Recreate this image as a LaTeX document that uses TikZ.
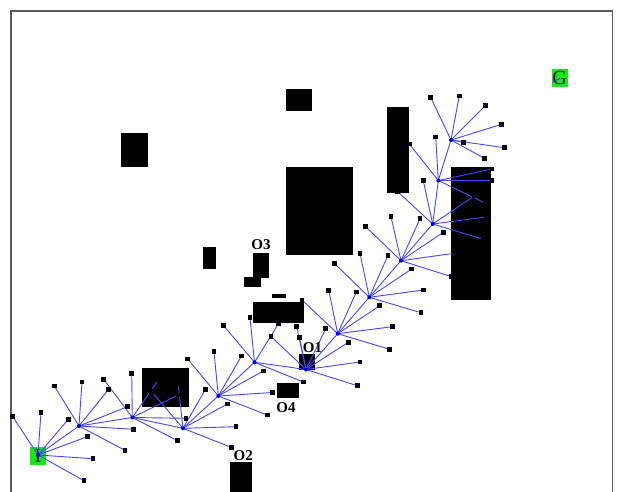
\documentclass[tikz,border=0pt]{standalone}
\usepackage{fontspec}
\setmainfont{Liberation Serif}
\pgfdeclarelayer{obst}
\pgfdeclarelayer{edges}
\pgfsetlayers{obst,edges,main}
\definecolor{edgeblue}{RGB}{70,70,255}
\definecolor{dotblue}{RGB}{0,0,220}
\definecolor{goalgreen}{RGB}{20,235,20}
\definecolor{framegray}{RGB}{90,90,90}
\tikzset{
  leaf/.style={fill=black, inner sep=0pt, minimum size=4.5pt, rectangle},
  tnode/.style={fill=dotblue, inner sep=0pt, minimum size=4pt, circle},
  edge/.style={draw=edgeblue, line width=0.9pt},
  obstacle/.style={fill=black},
  olabel/.style={anchor=base, inner sep=0pt, font=\fontsize{15}{15}\selectfont\bfseries},
  endbox/.style={fill=goalgreen, inner sep=0pt, minimum width=16pt, minimum height=17.5pt, font=\fontsize{20}{20}\selectfont}
}
\begin{document}
\begin{tikzpicture}[x=1pt,y=-1pt]
\useasboundingbox (0,0) rectangle (619,492);
\clip (0,0) rectangle (619,492);
\draw[framegray, line width=1.3pt] (11,495) -- (11,11) -- (612.5,11) -- (612.5,495);

\begin{pgfonlayer}{obst}
\fill[obstacle] (120.7,133.3) rectangle (147.7,166.7);
\fill[obstacle] (285.7,88.7) rectangle (312.3,110.7);
\fill[obstacle] (285.7,166.7) rectangle (353.3,255.3);
\fill[obstacle] (386.7,106.7) rectangle (409,193.3);
\fill[obstacle] (450.7,166.7) rectangle (491.3,300);
\fill[obstacle] (203.3,247.3) rectangle (216,269);
\fill[obstacle] (252.7,253.3) rectangle (268.7,277.7);
\fill[obstacle] (244.3,277.2) rectangle (260.7,286.7);
\fill[obstacle] (271.7,293.5) rectangle (285.5,297.5);
\fill[obstacle] (252.5,302.3) rectangle (304,323);
\fill[obstacle] (298.7,354.3) rectangle (315.3,370);
\fill[obstacle] (277,382.7) rectangle (298.7,398.3);
\fill[obstacle] (230.3,462.3) rectangle (252.3,492);
\fill[obstacle] (142.3,367.7) rectangle (189,407.3);
\node[endbox] (start) at (38,456) {I};
\node[endbox] (goal) at (559.7,78) {G};
\end{pgfonlayer}

\node[olabel] (o1) at (312.5,352.3) {O1};
\node[olabel] (o2) at (243.3,460.7) {O2};
\node[olabel] (o3) at (261,249.3) {O3};
\node[olabel] (o4) at (286,412.7) {O4};

% tree nodes
\node[tnode] (n0) at (38,455) {};
\node[tnode] (n1) at (79,426) {};
\node[tnode] (n2) at (132.3,417.5) {};
\node[tnode] (n3) at (183,428.3) {};
\node[tnode] (n4) at (218.3,396) {};
\node[tnode] (n5) at (254.5,362.3) {};
\node[tnode] (nx) at (306,369.5) {};
\node[tnode] (n6) at (337.7,333.7) {};
\node[tnode] (n7) at (369.3,297.3) {};
\node[tnode] (n8) at (401,260.7) {};
\node[tnode] (n9) at (432.7,224) {};
\node[tnode] (n10) at (438.3,180.5) {};
\node[tnode] (n11) at (451,140) {};
\coordinate (gA) at (552.3,82.3);
\coordinate (gB) at (560,78.3);

% leaves
\node[leaf] (a1) at (12.7,416.7) {};
\node[leaf] (a2) at (41,412.3) {};
\node[leaf] (a3) at (68.3,419.3) {};
\node[leaf] (a4) at (87.3,436.7) {};
\node[leaf] (a5) at (93,458.7) {};
\node[leaf] (a6) at (84,480.7) {};
\node[leaf] (b1) at (54.3,386) {};
\node[leaf] (b2) at (82,382) {};
\node[leaf] (b3) at (108.7,389.3) {};
\node[leaf] (b4) at (127.7,406.7) {};
\node[leaf] (b5) at (133.3,429.3) {};
\node[leaf] (b6) at (125,450.3) {};
\node[leaf] (c1) at (103.7,379.3) {};
\node[leaf] (c2) at (131.7,373.3) {};
\node[leaf] (c3) at (158.3,380) {};
\node[leaf] (c4) at (178.3,395) {};
\node[leaf] (c5) at (186,418.3) {};
\node[leaf] (c6) at (177.7,440.7) {};
\node[leaf] (d1) at (151.7,391.7) {};
\node[leaf] (d2) at (178.3,385) {};
\node[leaf] (d3) at (205.5,389.3) {};
\node[leaf] (d4) at (227.3,404) {};
\node[leaf] (d5) at (236,426.7) {};
\node[leaf] (d6) at (231.7,447.5) {};
\node[leaf] (e1) at (187.7,359) {};
\node[leaf] (e2) at (214,351.7) {};
\node[leaf] (e3) at (241.5,356) {};
\node[leaf] (e4) at (263.3,371) {};
\node[leaf] (e5) at (272.7,392.5) {};
\node[leaf] (e6) at (267.3,415) {};
\node[leaf] (f1) at (223.3,325.3) {};
\node[leaf] (f2) at (250,317.7) {};
\node[leaf] (f3) at (278.7,323.3) {};
\node[leaf] (f4) at (303.3,382) {};
\node[leaf] (x1) at (271,336.5) {};
\node[leaf] (x2) at (296.7,326.7) {};
\node[leaf] (x3) at (299.5,337.3) {};
\node[leaf] (x4) at (325.7,328.7) {};
\node[leaf] (x5) at (348.3,342.3) {};
\node[leaf] (x6) at (360,362) {};
\node[leaf] (x7) at (357.3,385.7) {};
\node[leaf] (g1) at (302,300) {};
\node[leaf] (g2) at (328.7,290.3) {};
\node[leaf] (g3) at (356.3,292) {};
\node[leaf] (g4) at (379.7,305.7) {};
\node[leaf] (g5) at (392.3,326.7) {};
\node[leaf] (g6) at (389.7,349.3) {};
\node[leaf] (h1) at (334.3,263.3) {};
\node[leaf] (h2) at (360,253.3) {};
\node[leaf] (h3) at (388,255.3) {};
\node[leaf] (h4) at (411.7,269) {};
\node[leaf] (h5) at (423.3,290) {};
\node[leaf] (h6) at (421,312.7) {};
\node[leaf] (i1) at (365.7,226.7) {};
\node[leaf] (i2) at (391,216.7) {};
\node[leaf] (i3) at (420,218.7) {};
\node[leaf] (i4) at (443.3,232.3) {};
\node[leaf] (i5) at (454,253.3) {};
\node[leaf] (i6) at (451.7,276.7) {};
\node[leaf] (j1) at (397.7,191.7) {};
\node[leaf] (j2) at (423.3,180.7) {};
\node[leaf] (j3) at (474.3,196) {};
\node[leaf] (j4) at (486,217) {};
\node[leaf] (j5) at (483.3,239.3) {};
\node[leaf] (k1) at (409.3,144) {};
\node[leaf] (k2) at (435.7,137) {};
\node[leaf] (k3) at (492,169) {};
\node[leaf] (k4) at (492,180.7) {};
\node[leaf] (k5) at (485,203) {};
\node[leaf] (m1) at (430.7,97.3) {};
\node[leaf] (m2) at (459.3,96) {};
\node[leaf] (m3) at (485.3,105.7) {};
\node[leaf] (m4) at (501.7,124.3) {};
\node[leaf] (m5) at (504.3,147.7) {};
\node[leaf] (m6) at (463.7,142.3) {};
\node[leaf] (m7) at (484.3,158.3) {};

\begin{pgfonlayer}{edges}
\foreach \p/\q in {n0/n1,n1/n2,n2/n3,n3/n4,n4/n5,n5/nx,nx/n6,n6/n7,n7/n8,n8/n9,n9/n10,n10/n11,gA/gB}
  \draw[edge] (\p.center) -- (\q.center);
\foreach \p/\q/\k in {n0/a/6,n1/b/6,n2/c/6,n3/d/6,n4/e/6,n5/f/4,nx/x/7,n6/g/6,n7/h/6,n8/i/6,n9/j/5,n10/k/5,n11/m/7}
  \foreach \i in {1,...,\k}
    \draw[edge] (\p.center) -- (\q\i.center);
\end{pgfonlayer}
\end{tikzpicture}
\end{document}
